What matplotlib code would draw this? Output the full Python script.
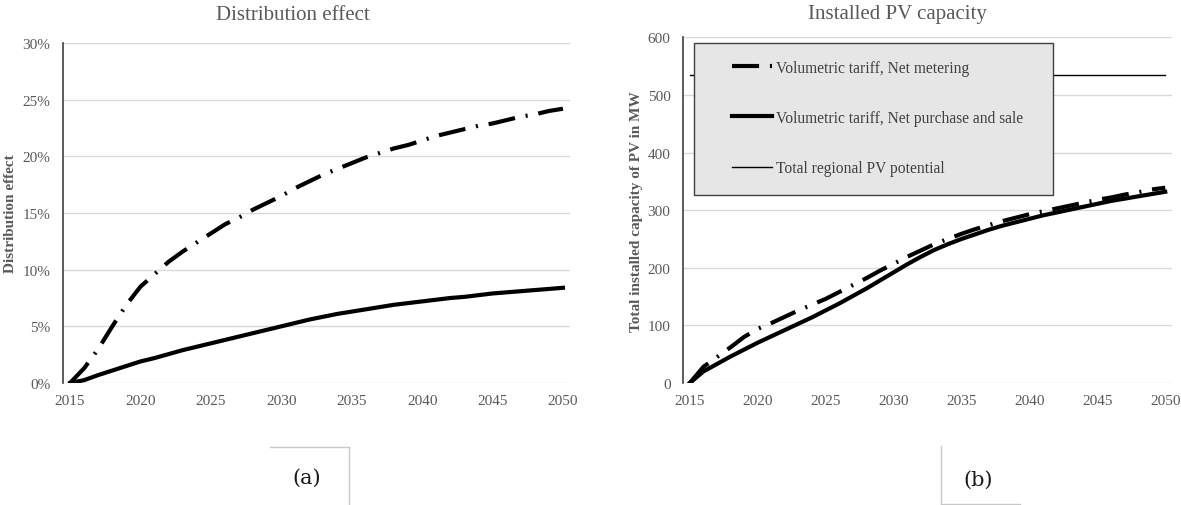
import numpy as np
import matplotlib
matplotlib.use('Agg')
import matplotlib.pyplot as plt
from matplotlib.patches import Rectangle
from matplotlib.lines import Line2D
from matplotlib.ticker import FuncFormatter

plt.rcParams['font.family'] = ['Liberation Serif', 'DejaVu Serif']

years = np.arange(2015, 2051)

# (a) distribution effect in %
dist_net_metering = [0, 1.3, 3.0, 5.0, 6.9, 8.5, 9.6, 10.7, 11.6, 12.4,
                     13.2, 14.0, 14.6, 15.3, 15.9, 16.5, 17.2, 17.8, 18.4, 18.9,
                     19.4, 19.9, 20.3, 20.7, 21.0, 21.4, 21.8, 22.1, 22.4, 22.7,
                     22.9, 23.2, 23.5, 23.7, 24.0, 24.2]
dist_purchase_sale = [0, 0.25, 0.7, 1.1, 1.5, 1.9, 2.2, 2.55, 2.9, 3.2,
                      3.5, 3.8, 4.1, 4.4, 4.7, 5.0, 5.3, 5.6, 5.85, 6.1,
                      6.3, 6.5, 6.7, 6.9, 7.05, 7.2, 7.35, 7.5, 7.6, 7.75,
                      7.9, 8.0, 8.1, 8.2, 8.3, 8.4]

# (b) installed PV capacity in MW
pv_net_metering = [0, 28, 45, 62, 80, 94, 104, 115, 126, 136,
                   146, 158, 170, 182, 195, 207, 219, 230, 241, 250,
                   259, 267, 274, 281, 287, 293, 298, 303, 308, 313,
                   318, 322, 327, 331, 336, 339]
pv_purchase_sale = [0, 20, 33, 46, 58, 70, 81, 92, 103, 114,
                    126, 138, 151, 164, 178, 192, 206, 219, 231, 241,
                    250, 258, 266, 273, 279, 285, 291, 296, 301, 306,
                    311, 316, 320, 324, 328, 332]
pv_potential = 535

labels = ['Volumetric tariff, Net metering',
          'Volumetric tariff, Net purchase and sale',
          'Total regional PV potential']
xticks = [2015, 2020, 2025, 2030, 2035, 2040, 2045, 2050]

gray = '#595959'
dashdot = (0, (6.5, 2.6, 0.5, 2.6))

W, H = 1181, 506
fig = plt.figure(figsize=(W / 100, H / 100), dpi=100)
ax1 = fig.add_axes([63 / W, 1 - 384 / H, (570 - 63) / W, (384 - 44) / H])
ax2 = fig.add_axes([683 / W, 1 - 384 / H, (1172 - 683) / W, (384 - 38.4) / H])

def style(ax):
    ax.set_xlim(2014.5, 2050.5)
    ax.set_xticks(xticks)
    ax.grid(axis='y', color='#d9d9d9', lw=1)
    ax.set_axisbelow(True)
    for s in ['top', 'right', 'bottom']:
        ax.spines[s].set_visible(False)
    ax.spines['left'].set_color('#404040')
    ax.spines['left'].set_linewidth(1.2)
    ax.tick_params(axis='both', length=0, labelsize=11, labelcolor=gray)
    ax.tick_params(axis='y', pad=9)
    ax.tick_params(axis='x', pad=8)

# (a)
ax1.plot(years, dist_net_metering, color='black', lw=3, linestyle=dashdot)
ax1.plot(years, dist_purchase_sale, color='black', lw=3)
ax1.set_ylim(0, 30)
ax1.set_yticks(np.arange(0, 31, 5))
ax1.yaxis.set_major_formatter(FuncFormatter(lambda v, p: '%d%%' % v))
style(ax1)
ax1.set_ylabel('Distribution effect', fontsize=11, fontweight='bold', color=gray, labelpad=4)

# (b)
ax2.plot(years, pv_net_metering, color='black', lw=3, linestyle=dashdot, label=labels[0])
ax2.plot(years, pv_purchase_sale, color='black', lw=3, label=labels[1])
ax2.plot(years, [pv_potential] * len(years), color='black', lw=1, label=labels[2])
ax2.set_ylim(0, 600)
ax2.set_yticks(np.arange(0, 601, 100))
style(ax2)
ax2.set_ylabel('Total installed capacity of PV in MW', fontsize=11, fontweight='bold',
               color=gray, labelpad=3)

ax2.add_patch(Rectangle((0.0225, 0.544), 0.7345, 0.44, transform=ax2.transAxes,
                        facecolor='#e6e6e6', edgecolor='#404040', lw=1, zorder=4))
leg = ax2.legend(loc='center left', bbox_to_anchor=(0.084, 0.767), frameon=False,
                 borderpad=0, handlelength=2.6, handletextpad=0.25, labelspacing=2.2,
                 fontsize=11.2, labelcolor='#404040')
leg.set_zorder(5)

fig.text(293 / W, 1 - 15 / H, 'Distribution effect', ha='center', va='center',
         fontsize=15, color=gray)
fig.text(897 / W, 1 - 15 / H, 'Installed PV capacity', ha='center', va='center',
         fontsize=15, color=gray)

# panel labels with their partial boxes
fig.text(307 / W, 1 - 478 / H, '(a)', ha='center', va='center', fontsize=15,
         family='DejaVu Serif', color='#1a1a1a')
fig.text(978 / W, 1 - 480 / H, '(b)', ha='center', va='center', fontsize=15,
         family='DejaVu Serif', color='#1a1a1a')
lc = '#c8c8c8'
fig.add_artist(Line2D([270 / W, 349 / W], [1 - 448 / H, 1 - 448 / H], color=lc, lw=1))
fig.add_artist(Line2D([349 / W, 349 / W], [1 - 448 / H, 0], color=lc, lw=1))
fig.add_artist(Line2D([941 / W, 941 / W], [1 - 447 / H, 1 - 505 / H], color=lc, lw=1))
fig.add_artist(Line2D([941 / W, 1020 / W], [1 - 505 / H, 1 - 505 / H], color=lc, lw=1))

fig.savefig('out.png', dpi=100)
